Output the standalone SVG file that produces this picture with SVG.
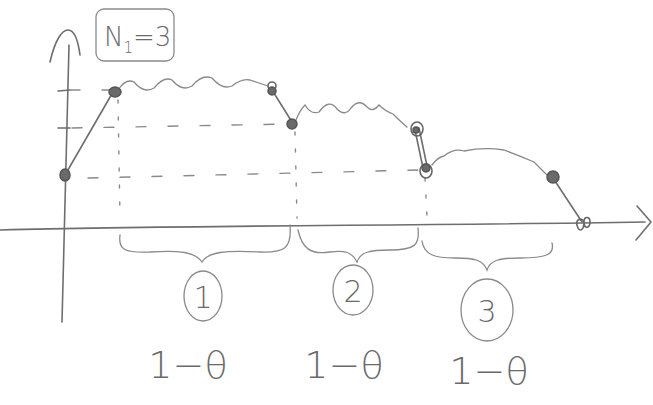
<svg xmlns="http://www.w3.org/2000/svg" width="653" height="405" viewBox="0 0 653 405">
<style>
.s{fill:none;stroke:#6e6e6e;stroke-width:1.6;stroke-linecap:round;stroke-linejoin:round}
.d{fill:none;stroke:#8a8a8a;stroke-width:1.4;stroke-dasharray:10 22;stroke-linecap:round}
.v{fill:none;stroke:#8a8a8a;stroke-width:1.4;stroke-dasharray:3 14;stroke-linecap:round}
.w{fill:none;stroke:#8a8a8a;stroke-width:1.3;stroke-linecap:round}
.p{fill:#6a6a6a;stroke:#555;stroke-width:1.5}
.o{fill:none;stroke:#666;stroke-width:1.6}
.t{font-family:"DejaVu Sans",sans-serif;fill:#6a6a6a;font-weight:300}
</style>
<g id="axes">
<path class="s" d="M62 322 C64 250 66 150 69 45"/>
<path class="s" d="M50 62 C55 40 62 30 68 30 C74 30 78 40 80 55"/>
<path class="s" d="M0 230 C200 225 400 226 645 222"/>
<path class="s" d="M637 206 L651 222 L636 240"/>
<path class="s" d="M58 91 L70 90 M58 128 L70 128"/>
</g>
<g id="label-N1">
<rect x="96" y="9" width="78" height="52" rx="8" class="w"/>
<text class="t" x="104" y="46" font-size="26">N<tspan font-size="15" dy="7">1</tspan><tspan dy="-7">=3</tspan></text>
</g>
<g id="guides">
<path class="d" d="M70 90 L112 90"/>
<path class="d" d="M72 128 L290 124"/>
<path class="d" d="M88 178 L420 170"/>
<path class="v" d="M118 100 L120 218"/>
<path class="v" d="M295 132 L297 218"/>
<path class="v" d="M425 178 L427 216"/>
</g>
<g id="curve">
<path class="s" d="M65 175 L113 92"/>
<path class="w" d="M118 90 Q126 78 134 82 Q144 94 154 88 Q164 76 172 80 Q182 92 192 86 Q202 74 212 78 Q222 90 232 86 Q242 78 250 80 Q262 84 268 86"/>
<path class="s" d="M272 90 L292 122"/>
<path class="w" d="M296 120 q4 -10 9 -15 q6 10 14 7 q10 -14 18 -3 q8 8 14 -1 q8 -10 16 -1 q6 6 12 -2 q6 6 14 9 q8 8 14 13"/>
<path class="s" d="M415 130 L423 168 M419 128 L427 166"/>
<path class="w" d="M432 165 q6 -8 12 -9 q10 -8 20 -5 q20 -4 40 -1 q16 6 30 12 q8 8 14 14"/>
<path class="s" d="M553 178 L582 222"/>
</g>
<g id="points">
<ellipse class="p" cx="65" cy="175" rx="5" ry="6"/>
<ellipse class="p" cx="115" cy="92" rx="6" ry="5"/>
<circle class="o" cx="272" cy="86" r="4"/>
<ellipse class="p" cx="272" cy="91" rx="4" ry="4"/>
<ellipse class="p" cx="292" cy="124" rx="5" ry="5"/>
<ellipse class="o" cx="417" cy="129" rx="6" ry="7"/>
<ellipse class="p" cx="416" cy="130" rx="3" ry="3"/>
<ellipse class="o" cx="426" cy="171" rx="6" ry="7"/>
<ellipse class="p" cx="426" cy="168" rx="4" ry="4"/>
<ellipse class="p" cx="553" cy="177" rx="6" ry="6"/>
<path class="o" d="M584 222 c-3 -6 -10 -2 -6 6 c2 4 6 2 6 -6 c0 -6 6 -6 6 0 c0 6 -6 8 -6 0"/>
</g>
<g id="segment-1">
<path class="w" d="M120 235 C118 250 125 253 150 252 C180 250 195 252 202 262 C208 252 225 250 260 252 C285 253 292 248 290 225"/>
<ellipse class="w" cx="203" cy="296" rx="19" ry="25"/>
<text class="t" x="203" y="308" font-size="30" text-anchor="middle">1</text>
<text class="t" x="188" y="378" font-size="38" text-anchor="middle">1−θ</text>
</g>
<g id="segment-2">
<path class="w" d="M298 230 C302 248 310 255 330 252 C345 250 352 252 357 262 C360 252 370 250 390 250 C415 250 420 245 418 228"/>
<ellipse class="w" cx="353" cy="290" rx="20" ry="25"/>
<text class="t" x="353" y="302" font-size="30" text-anchor="middle">2</text>
<text class="t" x="344" y="378" font-size="38" text-anchor="middle">1−θ</text>
</g>
<g id="segment-3">
<path class="w" d="M422 241 C424 255 435 258 455 258 C475 258 483 260 487 270 C490 260 500 258 520 258 C545 258 555 255 552 243"/>
<ellipse class="w" cx="487" cy="310" rx="26" ry="31"/>
<text class="t" x="487" y="322" font-size="30" text-anchor="middle">3</text>
<text class="t" x="489" y="384" font-size="38" text-anchor="middle">1−θ</text>
</g>
</svg>
